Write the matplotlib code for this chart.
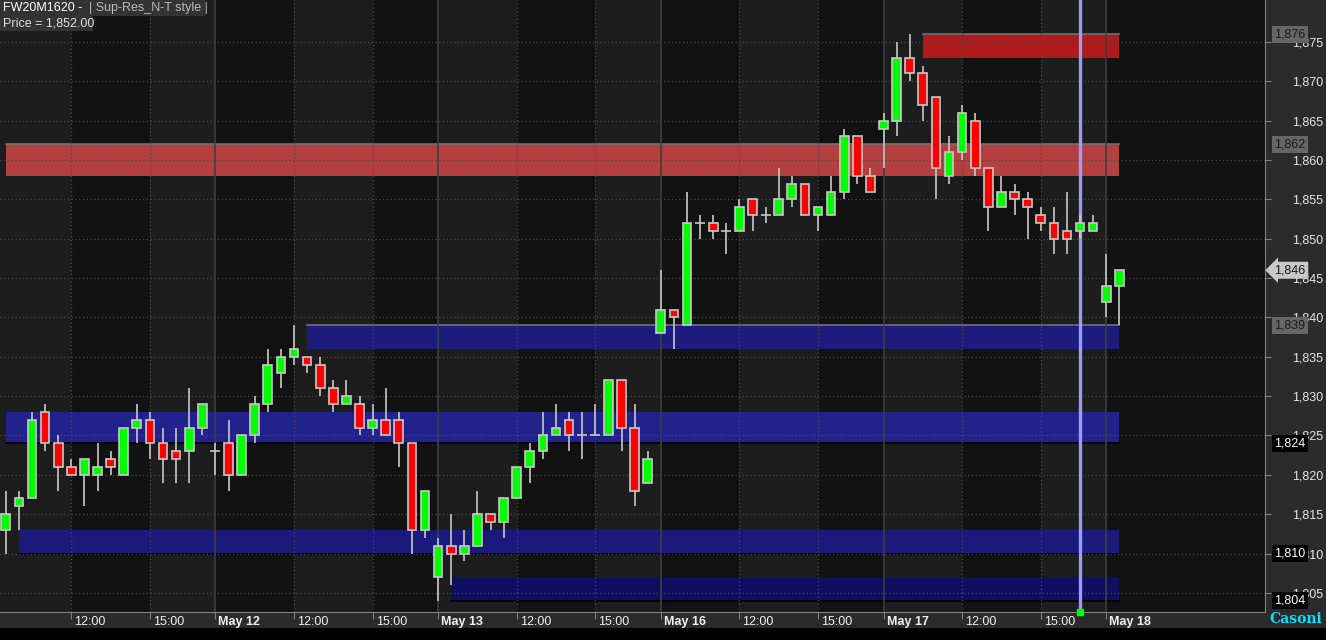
import numpy as np
import pandas as pd
import matplotlib
matplotlib.use('Agg')
import matplotlib.pyplot as plt
from matplotlib.patches import Rectangle
from matplotlib.transforms import ScaledTranslation, blended_transform_factory

plt.rcParams['font.family'] = ['Liberation Sans', 'DejaVu Sans']

# 30 minute bars of FW20M1620, sessions per day
days = ['2016-05-11', '2016-05-12', '2016-05-13', '2016-05-16', '2016-05-17', '2016-05-18']
session_open = ['09:30', '09:00', '09:00', '09:00', '09:00', '09:00']
session_close = ['17:00', '17:00', '17:00', '17:00', '17:00', '09:30']

opens = [1813, 1816, 1817, 1828, 1824, 1821, 1820, 1820, 1822, 1820, 1826, 1827, 1824, 1823, 1823, 1826,
         1823, 1824, 1820, 1825, 1829, 1833, 1835, 1835, 1834, 1831, 1829, 1829, 1826, 1827, 1827, 1824, 1813,
         1807, 1811, 1810, 1811, 1815, 1814, 1817, 1821, 1823, 1825, 1827, 1825, 1825, 1825, 1832, 1826, 1819,
         1838, 1841, 1839, 1852, 1852, 1851, 1851, 1855, 1853, 1853, 1855, 1857, 1853, 1853, 1856, 1863, 1858,
         1864, 1865, 1873, 1871, 1868, 1858, 1861, 1865, 1859, 1854, 1856, 1855, 1853, 1852, 1851, 1851, 1851,
         1842, 1844]
highs = [1818, 1818, 1828, 1829, 1825, 1822, 1822, 1824, 1823, 1826, 1829, 1828, 1826, 1826, 1831, 1829,
         1824, 1827, 1825, 1830, 1836, 1836, 1839, 1835, 1835, 1832, 1832, 1830, 1829, 1831, 1828, 1824, 1818,
         1812, 1815, 1813, 1818, 1815, 1817, 1821, 1824, 1828, 1829, 1828, 1828, 1829, 1832, 1832, 1829, 1823,
         1846, 1841, 1856, 1853, 1853, 1852, 1855, 1855, 1854, 1859, 1858, 1857, 1854, 1858, 1864, 1863, 1859,
         1866, 1875, 1876, 1872, 1868, 1863, 1867, 1866, 1859, 1858, 1857, 1856, 1854, 1854, 1856, 1853, 1853,
         1848, 1846]
lows = [1810, 1813, 1817, 1823, 1818, 1820, 1816, 1818, 1820, 1820, 1824, 1822, 1819, 1819, 1819, 1825,
        1820, 1818, 1820, 1824, 1828, 1831, 1834, 1833, 1830, 1828, 1829, 1825, 1825, 1825, 1821, 1810, 1812,
        1804, 1806, 1809, 1811, 1813, 1812, 1817, 1819, 1822, 1825, 1823, 1822, 1825, 1825, 1823, 1816, 1819,
        1838, 1836, 1839, 1850, 1850, 1848, 1851, 1851, 1852, 1853, 1854, 1853, 1851, 1853, 1855, 1857, 1856,
        1859, 1863, 1870, 1865, 1855, 1857, 1860, 1858, 1851, 1854, 1853, 1850, 1851, 1848, 1848, 1850, 1851,
        1840, 1839]
closes = [1815, 1817, 1827, 1824, 1821, 1820, 1822, 1821, 1821, 1826, 1827, 1824, 1822, 1822, 1826, 1829,
          1823, 1820, 1825, 1829, 1834, 1835, 1836, 1834, 1831, 1829, 1830, 1826, 1827, 1825, 1824, 1813, 1818,
          1811, 1810, 1811, 1815, 1814, 1817, 1821, 1823, 1825, 1826, 1825, 1825, 1825, 1832, 1826, 1818, 1822,
          1841, 1840, 1852, 1852, 1851, 1851, 1854, 1853, 1853, 1855, 1857, 1853, 1854, 1856, 1863, 1858, 1856,
          1865, 1873, 1871, 1867, 1859, 1861, 1866, 1859, 1854, 1856, 1855, 1854, 1852, 1850, 1850, 1852, 1852,
          1844, 1846]

# support / resistance zones
zone_lo = [1873, 1858, 1836, 1824, 1810, 1804]
zone_hi = [1876, 1862, 1839, 1828, 1813, 1807]
zone_start = [70, 0, 23, 0, 1, 34]
zone_kind = ['R', 'R', 'R', 'S', 'S', 'S']
zone_colors = ['#b01a1a', '#b43f3f', '#1c1c7e', '#22228c', '#1a1a7c', '#0f0f62']

cursor_bar = 82
yticks = list(range(1805, 1880, 5))

# bar times
times = []
for d, o, c in zip(days, session_open, session_close):
    times += list(pd.date_range(d + ' ' + o, d + ' ' + c, freq='30min'))
times = pd.DatetimeIndex(times)
n = len(times)
xs = np.arange(n)
opens = np.array(opens); closes = np.array(closes)
highs = np.array(highs); lows = np.array(lows)

# ticks: first bar of each day + 12:00 and 15:00
tick_pos, tick_lab, tick_day = [], [], []
for i, t in enumerate(times):
    if i > 0 and t.date() != times[i - 1].date():
        tick_pos.append(i); tick_lab.append(t.strftime('%b %d').replace(' 0', ' ')); tick_day.append(True)
    elif t.strftime('%H:%M') in ('12:00', '15:00'):
        tick_pos.append(i); tick_lab.append(t.strftime('%H:%M')); tick_day.append(False)

fig = plt.figure(figsize=(13.26, 6.4), dpi=100, facecolor='#2b2b2b')
ax = fig.add_axes([0, 28 / 640, 1265 / 1326, 612 / 640])
x0, x1 = -0.443, 96.12
y0, y1 = 1802.57, 1880.34
ax.set_xlim(x0, x1)
ax.set_ylim(y0, y1)

# alternating session shading
edges = [x0] + tick_pos + [x1]
for k in range(len(edges) - 1):
    ax.axvspan(edges[k], edges[k + 1], color='#1d1d1d' if k % 2 == 0 else '#121212', lw=0, zorder=0)

# zones
for lo, hi, st, kind, col in zip(zone_lo, zone_hi, zone_start, zone_kind, zone_colors):
    ax.fill_between([st, n - 1], lo, hi, color=col, lw=0, zorder=1)
    if kind == 'R':
        ax.plot([st, n - 1], [hi, hi], color='#707070', lw=1.2, zorder=1.5)
    else:
        ax.plot([st, n - 1], [lo, lo], color='#000000', lw=1.2, zorder=1.5)

# grid
for y in yticks:
    ax.axhline(y, color='#4a4a4a', lw=0.9, ls=(0, (1, 2)), zorder=2)
for p, isday in zip(tick_pos, tick_day):
    if isday:
        ax.axvline(p, color='#3e3e3e', lw=1.2, zorder=2)
    else:
        ax.axvline(p, color='#4a4a4a', lw=0.9, ls=(0, (1, 2)), zorder=2)

# cursor line
ax.axvline(cursor_bar, color='#9a9aff', lw=2.4, zorder=3)
ax.plot([cursor_bar], [y0], marker='s', ms=4, color='#00ff00', clip_on=False, zorder=6)

# candles
up = closes > opens
dn = closes < opens
flat = closes == opens
ax.vlines(xs, lows, highs, color='#c8c8c8', lw=1.2, zorder=4)
ax.bar(xs[up], (closes - opens)[up], bottom=opens[up], width=0.66, color='#00ff00',
       edgecolor='#c8c8c8', lw=1.2, zorder=5)
ax.bar(xs[dn], (opens - closes)[dn], bottom=closes[dn], width=0.66, color='#ff0000',
       edgecolor='#c8c8c8', lw=1.2, zorder=5)
ax.hlines(opens[flat], xs[flat] - 0.38, xs[flat] + 0.38, color='#c8c8c8', lw=1.2, zorder=5)

# axes styling
for s in ['top', 'left']:
    ax.spines[s].set_visible(False)
ax.spines['right'].set_color('#808080')
ax.spines['bottom'].set_color('#808080')
ax.yaxis.tick_right()
ax.set_yticks(yticks)
ax.set_yticklabels([f'{v:,}' for v in yticks])
ax.tick_params(axis='y', colors='#808080', labelcolor='#e6e6e6', length=4, pad=38, labelsize=9)
for lab in ax.get_yticklabels():
    lab.set_horizontalalignment('right')

ax.set_xticks(tick_pos)
ax.set_xticklabels(tick_lab)
ax.tick_params(axis='x', colors='#808080', labelcolor='#f0f0f0', length=5, pad=0, labelsize=9)
off = ScaledTranslation(3 / 100, 3 / 100, fig.dpi_scale_trans)
for lab, isday in zip(ax.get_xticklabels(), tick_day):
    lab.set_horizontalalignment('left')
    lab.set_transform(lab.get_transform() + off)
    if isday:
        lab.set_fontweight('bold')

# level labels on the price axis
tr = blended_transform_factory(ax.transAxes, ax.transData)
for lo, hi, kind in zip(zone_lo, zone_hi, zone_kind):
    if kind == 'R':
        ax.text(1.0075, hi, f'{hi:,}', transform=tr, ha='left', va='center', fontsize=9, color='#1a1a1a',
                bbox=dict(boxstyle='square,pad=0.2', fc='#666666', ec='none'), zorder=10, clip_on=False)
    else:
        ax.text(1.0075, lo, f'{lo:,}', transform=tr, ha='left', va='center', fontsize=9, color='#ffffff',
                bbox=dict(boxstyle='square,pad=0.2', fc='#000000', ec='none'), zorder=10, clip_on=False)
last = closes[-1]
ax.text(1.0075, last, f'{last:,}', transform=tr, ha='left', va='center', fontsize=9, color='#1a1a1a',
        bbox=dict(boxstyle='larrow,pad=0.2', fc='#c8c8c8', ec='none'), zorder=10, clip_on=False)

# header
fig.patches.append(Rectangle((0, 1 - 16 / 640), 205 / 1326, 16 / 640, transform=fig.transFigure,
                             fc='#333333', ec='none', zorder=5))
fig.patches.append(Rectangle((0, 1 - 31 / 640), 93 / 1326, 15 / 640, transform=fig.transFigure,
                             fc='#333333', ec='none', zorder=5))
fig.text(3 / 1326, 1 - 8 / 640, 'FW20M1620 -', color='#ffffff', fontsize=9, va='center', zorder=6)
fig.text(89 / 1326, 1 - 8 / 640, '| Sup-Res_N-T style |', color='#bbbbbb', fontsize=9, va='center', zorder=6)
fig.text(3 / 1326, 1 - 23.5 / 640, 'Price = 1,852.00', color='#e0e0e0', fontsize=9, va='center', zorder=6)

# bottom black strip and logo
fig.patches.append(Rectangle((0, 0), 1, 12 / 640, transform=fig.transFigure, fc='#000000', ec='none'))
fig.text(1296 / 1326, 1 - 619 / 640, 'Casoni', color='#00e5ff', fontsize=10, fontweight='bold',
         family='DejaVu Serif', ha='center', va='center')

fig.savefig('out.png', dpi=100, facecolor=fig.get_facecolor())
